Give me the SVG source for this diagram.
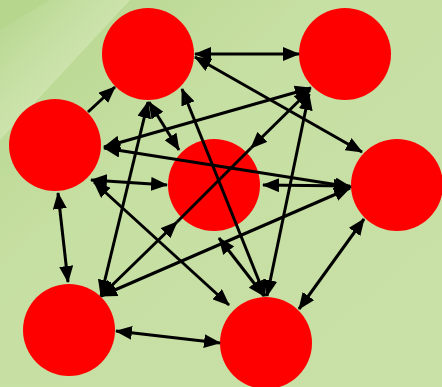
<svg xmlns="http://www.w3.org/2000/svg" width="442" height="387" viewBox="0 0 442 387">
<defs>
<linearGradient id="bg" x1="0" y1="0" x2="1" y2="1">
<stop offset="0" stop-color="#b4d58b"/>
<stop offset="0.35" stop-color="#c6dfa2"/>
<stop offset="1" stop-color="#c9e0a7"/>
</linearGradient>
<linearGradient id="band" x1="0" y1="0" x2="1" y2="1">
<stop offset="0" stop-color="#d6eabb" stop-opacity="0"/>
<stop offset="0.5" stop-color="#d6eabb" stop-opacity="0.6"/>
<stop offset="1" stop-color="#d6eabb" stop-opacity="0"/>
</linearGradient>
<marker id="h" viewBox="0 0 17 14" refX="16" refY="7" markerWidth="17" markerHeight="14" orient="auto-start-reverse" markerUnits="userSpaceOnUse">
<path d="M0,0 L17,7 L0,14 z" fill="#000"/>
</marker>
</defs>
<style>
.n{fill:#ff0000}
.c path{fill:none;stroke:#000;stroke-width:3;marker-end:url(#h)}
.c path.d{marker-start:url(#h)}
.c path.p{marker-end:none}
</style>
<rect width="442" height="387" fill="url(#bg)"/>
<path d="M0,30 L50,0 L130,0 L0,140 Z" fill="url(#band)"/>
<g id="node-A"><circle class="n" cx="148" cy="54" r="46"/></g>
<g id="node-B"><circle class="n" cx="345" cy="54" r="46"/></g>
<g id="node-C"><circle class="n" cx="55" cy="145" r="46"/></g>
<g id="node-D"><circle class="n" cx="214" cy="185" r="46"/></g>
<g id="node-E"><circle class="n" cx="397" cy="185" r="46"/></g>
<g id="node-F"><circle class="n" cx="69" cy="330" r="46"/></g>
<g id="node-G"><circle class="n" cx="266" cy="343" r="46"/></g>
<g id="connectors" class="c">
<path class="d" d="M195,54 L299,54"/>
<path d="M88,112 L115,87"/>
<path class="d" d="M149,102 L179,150"/>
<path class="d" d="M148,102 L101,296"/>
<path class="d" d="M182,89 L265,296"/>
<path class="d" d="M195,57 L362,152"/>
<path class="d" d="M311,88 L104,147"/>
<path class="d" d="M310,90 L251,148"/>
<path class="p" d="M251,148 L177,222"/>
<path class="d" d="M177,222 L101,296"/>
<path class="d" d="M309,94 L267,296"/>
<path class="d" d="M91,180 L167,185"/>
<path class="d" d="M104,148 L351,187"/>
<path class="d" d="M94,182 L229,305"/>
<path class="d" d="M58,193 L68,282"/>
<path class="d" d="M263,185 L350,186"/>
<path class="d" d="M350,188 L101,296"/>
<path class="d" d="M219,238 L264,296"/>
<path class="d" d="M364,219 L299,309"/>
<path class="d" d="M116,331 L220,343"/>
</g>
</svg>
